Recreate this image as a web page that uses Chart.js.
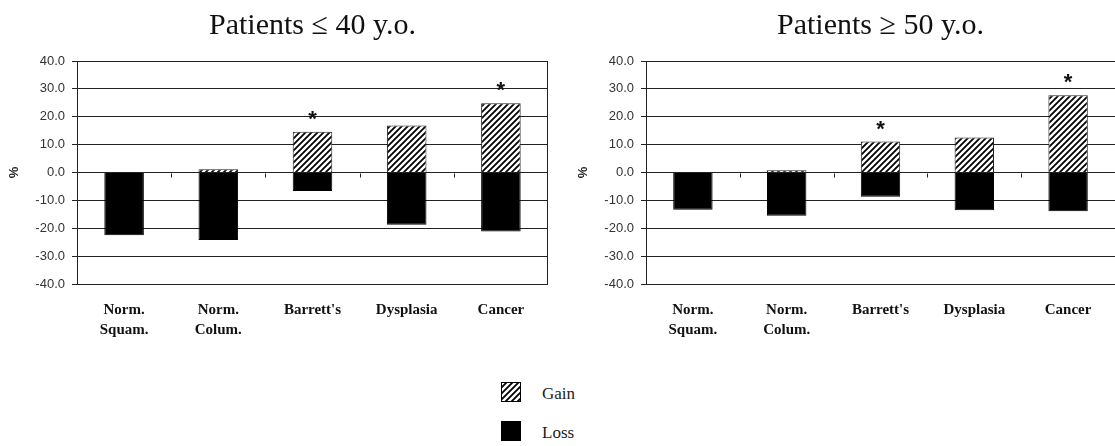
<!DOCTYPE html>
<html>
<head>
<meta charset="utf-8">
<script src="https://cdn.jsdelivr.net/npm/chart.js@4.4.0/dist/chart.umd.min.js"></script>
<style>
  body { margin: 0; background: #fff; width: 1115px; height: 446px; overflow: hidden; position: relative; }
  canvas.chart { position: absolute; top: 0; }
  .legend-row { position: absolute; left: 501px; height: 20px; display: flex; align-items: center;
    font-family: 'Liberation Serif', 'Times New Roman', serif; font-size: 17px; color: #222; }
  .legend-row canvas { margin-right: 21px; }
  .legend-row span { position: relative; top: 2px; }
</style>
</head>
<body>
<canvas id="chartYoung" class="chart" width="560" height="345" style="left:0px"></canvas>
<canvas id="chartOld" class="chart" width="555" height="345" style="left:560px"></canvas>
<div class="legend-row" style="top:382px"><canvas id="swGain" width="20" height="20"></canvas><span>Gain</span></div>
<div class="legend-row" style="top:421px"><canvas id="swLoss" width="20" height="20"></canvas><span>Loss</span></div>
<script>
// datos
const categories = [['Norm.', 'Squam.'], ['Norm.', 'Colum.'], "Barrett's", 'Dysplasia', 'Cancer'];
const yTicks = [-40, -30, -20, -10, 0, 10, 20, 30, 40];

const gainYoung = [0, 1.2, 14.6, 16.9, 24.8];
const lossYoung = [-22.5, -24.2, -6.6, -18.7, -21.2];
const starsYoung = [false, false, true, false, true];

const gainOld = [0, 0.8, 11.1, 12.6, 27.7];
const lossOld = [-13.4, -15.5, -8.7, -13.5, -13.9];
const starsOld = [false, false, true, false, true];

// patron rayado para "Gain"
function hatch() {
  const c = document.createElement('canvas');
  c.width = 6; c.height = 6;
  const g = c.getContext('2d');
  g.fillStyle = '#fff';
  g.fillRect(0, 0, 6, 6);
  g.strokeStyle = '#000';
  g.lineWidth = 1.8;
  g.beginPath();
  g.moveTo(-1, 7); g.lineTo(7, -1);
  g.moveTo(-4, 4); g.lineTo(4, -4);
  g.moveTo(2, 10); g.lineTo(10, 2);
  g.stroke();
  return g.createPattern(c, 'repeat');
}
const hatchPattern = hatch();

function extras(gain, stars, rightBorder) {
  return {
    id: 'extras',
    afterDatasetsDraw(chart) {
      const { ctx, chartArea, scales: { x, y } } = chart;
      ctx.save();
      ctx.strokeStyle = '#222';
      ctx.lineWidth = 1;
      ctx.beginPath();
      // marcas en la linea de 0 entre categorias
      const y0 = Math.round(y.getPixelForValue(0)) + 0.5;
      for (let i = 1; i < categories.length; i++) {
        const xb = Math.round((x.getPixelForValue(i - 1) + x.getPixelForValue(i)) / 2) + 0.5;
        ctx.moveTo(xb, y0);
        ctx.lineTo(xb, y0 + 4);
      }
      if (rightBorder) {
        ctx.moveTo(chartArea.right - 0.5, chartArea.top);
        ctx.lineTo(chartArea.right - 0.5, chartArea.bottom);
      }
      ctx.stroke();
      // asteriscos
      ctx.fillStyle = '#111';
      ctx.font = 'bold 22px "Liberation Sans"';
      ctx.textAlign = 'center';
      ctx.textBaseline = 'middle';
      stars.forEach((s, i) => {
        if (!s) return;
        ctx.fillText('*', x.getPixelForValue(i), y.getPixelForValue(gain[i]) - 12);
      });
      ctx.restore();
    }
  };
}

function makeChart(id, title, gain, loss, stars, axisWidth, pctPad, rightBorder) {
  return new Chart(document.getElementById(id), {
    type: 'bar',
    data: {
      labels: categories,
      datasets: [
        { label: 'Gain', data: gain, backgroundColor: hatchPattern, borderColor: '#222', borderWidth: 1 },
        { label: 'Loss', data: loss, backgroundColor: '#000', borderColor: '#000', borderWidth: 1 }
      ]
    },
    options: {
      responsive: false,
      animation: false,
      layout: { padding: { left: 0, right: rightBorder ? 12 : 0, top: 0, bottom: 0 } },
      datasets: { bar: { categoryPercentage: 1, barPercentage: 0.42 } },
      plugins: {
        legend: { display: false },
        tooltip: { enabled: false },
        title: {
          display: true,
          text: title,
          fullSize: false,
          color: '#111',
          font: { family: 'Liberation Serif', size: 30, weight: 'normal', lineHeight: 1.2 },
          padding: { top: 8, bottom: 17 }
        }
      },
      scales: {
        x: {
          stacked: true,
          grid: { display: false, drawTicks: false, tickLength: 0 },
          border: { display: false },
          ticks: {
            padding: 16,
            color: '#111',
            maxRotation: 0,
            font: { family: 'Liberation Serif', size: 15, weight: 'bold', lineHeight: 1.35 }
          },
          afterFit: s => { s.height = 61; }
        },
        y: {
          stacked: true,
          min: -40,
          max: 40,
          afterBuildTicks: s => { s.ticks = yTicks.map(v => ({ value: v })); },
          grid: { color: '#222', lineWidth: 1, tickLength: 5 },
          border: { color: '#222' },
          ticks: {
            padding: 7,
            color: '#333',
            font: { family: 'Liberation Sans', size: 13 },
            callback: v => v.toFixed(1)
          },
          title: {
            display: true,
            text: '%',
            color: '#222',
            font: { family: 'Liberation Sans', size: 13, weight: 'bold', lineHeight: 1.2 },
            padding: { top: pctPad, bottom: 0 }
          },
          afterFit: s => { s.width = axisWidth; }
        }
      }
    },
    plugins: [extras(gain, stars, rightBorder)]
  });
}

makeChart('chartYoung', 'Patients \u2264 40 y.o.', gainYoung, lossYoung, starsYoung, 77, 7, true);
makeChart('chartOld', 'Patients \u2265 50 y.o.', gainOld, lossOld, starsOld, 86, 16, false);

// leyenda
const sg = document.getElementById('swGain').getContext('2d');
sg.fillStyle = hatchPattern;
sg.fillRect(0, 0, 20, 20);
sg.strokeStyle = '#000';
sg.lineWidth = 1;
sg.strokeRect(0.5, 0.5, 19, 19);
const sl = document.getElementById('swLoss').getContext('2d');
sl.fillStyle = '#000';
sl.fillRect(0, 0, 20, 20);
</script>
</body>
</html>
